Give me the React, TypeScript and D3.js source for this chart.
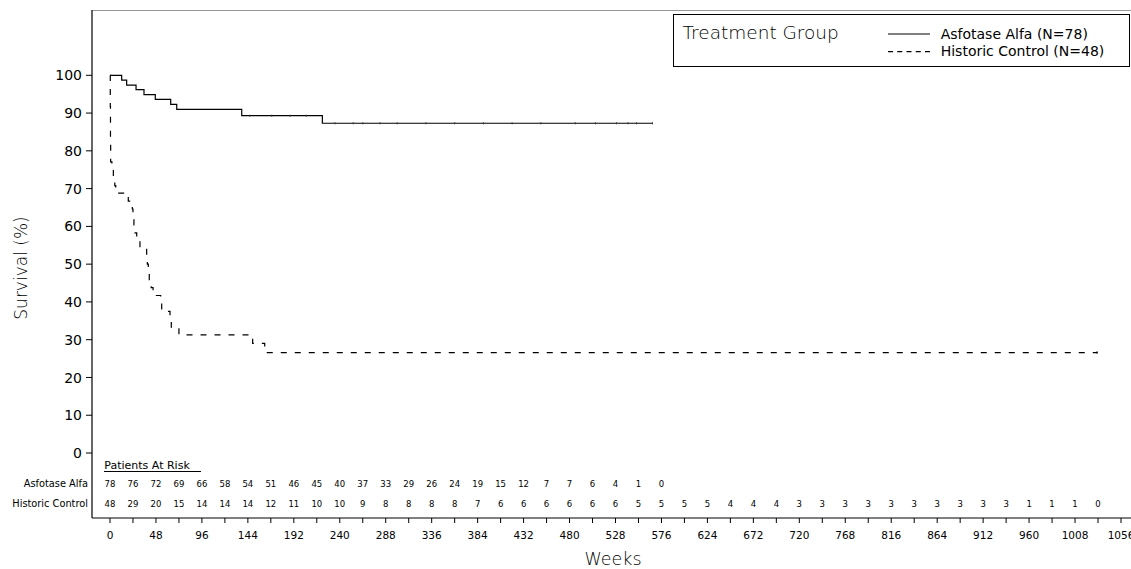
import React from "react";
import * as d3 from "d3";

// ---- Data ----
const asfTimes = [0, 12.2, 17.4, 27.2, 35.5, 47.3, 63.4, 69.7, 137.6, 221.8];
const asfSurv = [100, 98.7, 97.4, 96.2, 94.9, 93.6, 92.3, 91.0, 89.3, 87.3];
const asfEnd = 566.6;
const asfCensor = [146, 169, 188, 205, 235, 254, 264, 282, 300, 330, 360, 390, 420, 450, 486, 507, 529, 541, 550, 566.6];

const hcTimes = [0, 0.3, 0.5, 0.7, 2, 3.5, 5, 6, 19.1, 23.3, 24, 25, 26, 27.9, 31.3, 38.3, 39, 40, 41, 43, 45, 53, 54, 62.7, 64, 72, 149, 161.6];
const hcSurv = [100, 91.7, 83.3, 77.1, 75.0, 72.9, 70.8, 68.8, 66.7, 64.6, 62.5, 60.4, 58.3, 56.3, 54.2, 52.1, 50.0, 47.9, 45.8, 43.8, 41.7, 39.6, 37.5, 35.4, 33.3, 31.3, 29.0, 26.6];
const hcEnd = 1031;

const yTicks = [0, 10, 20, 30, 40, 50, 60, 70, 80, 90, 100];
const xMinorTicks = d3.range(0, 1057, 24);
const xLabelTicks = d3.range(0, 1057, 48);

const riskAsf = [78, 76, 72, 69, 66, 58, 54, 51, 46, 45, 40, 37, 33, 29, 26, 24, 19, 15, 12, 7, 7, 6, 4, 1, 0];
const riskHc = [48, 29, 20, 15, 14, 14, 14, 12, 11, 10, 10, 9, 8, 8, 8, 8, 7, 6, 6, 6, 6, 6, 6, 5, 5, 5, 5, 4, 4, 4, 3, 3, 3, 3, 3, 3, 3, 3, 3, 3, 1, 1, 1, 0];

const groups = ["Asfotase Alfa (N=78)", "Historic Control (N=48)"];
const riskLabels = ["Asfotase Alfa", "Historic Control"];

const FONT = "'DejaVu Sans', sans-serif";
const LIGHT = 200;

export default function App() {
  const W = 1131, H = 569;
  const x = d3.scaleLinear().domain([0, 1056]).range([110, 1121]);
  const y = d3.scaleLinear().domain([0, 100]).range([453, 75.3]);
  const axisX = 92;
  const axisY = 518;

  const line = d3
    .line<[number, number]>()
    .x((d) => x(d[0]))
    .y((d) => y(d[1]))
    .curve(d3.curveStepAfter);

  const asfPts: [number, number][] = asfTimes.map((t, i) => [t, asfSurv[i]]);
  asfPts.push([asfEnd, asfSurv[asfSurv.length - 1]]);
  const hcPts: [number, number][] = hcTimes.map((t, i) => [t, hcSurv[i]]);
  hcPts.push([hcEnd, hcSurv[hcSurv.length - 1]]);

  const survAt = (times: number[], surv: number[], t: number) => {
    let s = surv[0];
    for (let i = 0; i < times.length; i++) if (times[i] <= t) s = surv[i];
    return s;
  };

  return (
    <svg width={W} height={H} style={{ position: "absolute", left: 0, top: 0, background: "#fff" }} fontFamily={FONT}>
      {/* frame */}
      <line x1={axisX} x2={W} y1={10.5} y2={10.5} stroke="#999" strokeWidth={1} />
      <line x1={axisX} x2={axisX} y1={10} y2={axisY} stroke="#000" strokeWidth={1.2} />
      <line x1={axisX} x2={W} y1={axisY} y2={axisY} stroke="#000" strokeWidth={1.2} />

      {/* y axis */}
      {yTicks.map((t) => (
        <g key={"y" + t}>
          <line x1={axisX - 6} x2={axisX} y1={y(t)} y2={y(t)} stroke="#000" />
          <text x={82} y={y(t)} dy="0.36em" textAnchor="end" fontSize={14} fill="#000">
            {t}
          </text>
        </g>
      ))}
      <text
        transform={`translate(27,${268}) rotate(-90)`}
        textAnchor="middle"
        fontSize={17}
        fontWeight={LIGHT}
        fill="#000"
      >
        Survival (%)
      </text>

      {/* x axis */}
      {xMinorTicks.map((t) => (
        <line key={"xt" + t} x1={x(t)} x2={x(t)} y1={axisY} y2={axisY + 5} stroke="#000" />
      ))}
      {xLabelTicks.map((t) => (
        <text key={"xl" + t} x={x(t)} y={539} textAnchor="middle" fontSize={10.5} fill="#000">
          {t}
        </text>
      ))}
      <text x={613} y={565} textAnchor="middle" fontSize={17.5} fontWeight={LIGHT} fill="#000">
        Weeks
      </text>

      {/* curves */}
      <path d={line(asfPts) || ""} fill="none" stroke="#000" strokeWidth={1.2} />
      <path d={line(hcPts) || ""} fill="none" stroke="#000" strokeWidth={1.2} strokeDasharray="6,8" />
      {asfCensor.map((t, i) => {
        const s = survAt(asfTimes, asfSurv, t);
        return <line key={"c" + i} x1={x(t)} x2={x(t)} y1={y(s) - 1} y2={y(s) + 1} stroke="#333" strokeWidth={1} />;
      })}
      <line x1={x(hcEnd)} x2={x(hcEnd)} y1={y(26.6) - 1} y2={y(26.6) + 1} stroke="#000" strokeWidth={1.5} />

      {/* legend */}
      <rect x={673.5} y={14.5} width={456} height={52} fill="#fff" stroke="#000" strokeWidth={1} />
      <text x={682.5} y={39.3} fontSize={18.5} fontWeight={LIGHT} fill="#000">
        Treatment Group
      </text>
      <line x1={888} x2={930} y1={34} y2={34} stroke="#000" strokeWidth={1.2} />
      <line x1={888} x2={930} y1={51.7} y2={51.7} stroke="#000" strokeWidth={1.2} strokeDasharray="5,4.25" />
      <text x={940.7} y={38.5} fontSize={14} fill="#000">
        {groups[0]}
      </text>
      <text x={940.7} y={56.2} fontSize={14} fill="#000">
        {groups[1]}
      </text>

      {/* at risk table */}
      <text x={104.3} y={469} fontSize={11} fill="#000">
        Patients At Risk
      </text>
      <line x1={104} x2={201} y1={471.5} y2={471.5} stroke="#000" strokeWidth={1} />
      <text x={88} y={487} textAnchor="end" fontSize={9.8} fill="#000">
        {riskLabels[0]}
      </text>
      <text x={88} y={507} textAnchor="end" fontSize={9.8} fill="#000">
        {riskLabels[1]}
      </text>
      {riskAsf.map((v, i) => (
        <text key={"ra" + i} x={x(i * 24)} y={487} textAnchor="middle" fontSize={8.5} fill="#000">
          {v}
        </text>
      ))}
      {riskHc.map((v, i) => (
        <text key={"rh" + i} x={x(i * 24)} y={507} textAnchor="middle" fontSize={8.5} fill="#000">
          {v}
        </text>
      ))}
    </svg>
  );
}
